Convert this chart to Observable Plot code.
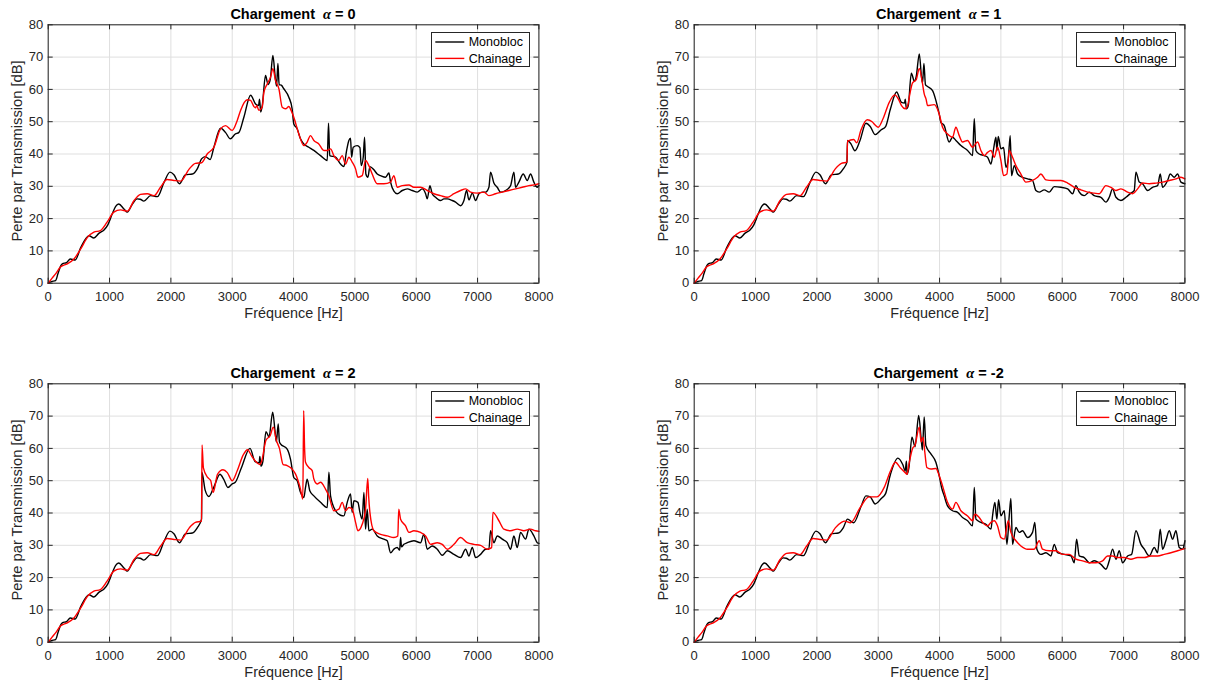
<!DOCTYPE html>
<html><head><meta charset="utf-8">
<script src="https://cdn.jsdelivr.net/npm/d3@7"></script>
<script src="https://cdn.jsdelivr.net/npm/@observablehq/plot@0.6"></script>
<style>
body{margin:0;background:#fff;}
#root{position:relative;width:1208px;height:684px;overflow:hidden;background:#fff;font-family:"Liberation Sans",Arial,Helvetica,sans-serif;}
.panel{position:absolute;}
.ttl{position:absolute;width:300px;text-align:center;font-weight:bold;font-size:14.5px;line-height:18px;color:#000;white-space:pre;}
.ttl i{font-family:"Liberation Serif","DejaVu Serif",serif;font-style:italic;}
.leg{position:absolute;background:#fff;border:1px solid #262626;box-sizing:border-box;font-size:12.5px;color:#000;}
.leg div{position:absolute;left:37px;line-height:14px;}
</style>
</head><body><div id="root"></div>
<script>
// ---- tick labels ----
const xTicks = [0,1000,2000,3000,4000,5000,6000,7000,8000];
const yTicks = [0,10,20,30,40,50,60,70,80];
const titles = ["0","1","2","-2"];
const seriesNames = ["Monobloc","Chainage"];

// ---- shared low-frequency part (Hz, dB) ----
const monoLow = [[0,0],[50,0.5],[120,0.8],[160,3],[200,5.2],[230,6],[300,6.4],[360,7.5],[440,7.2],[530,11],[610,13.7],[665,14.7],[745,14],[830,15.5],[910,16.5],[970,18],[1045,21.5],[1100,23.8],[1150,24.5],[1235,23],[1290,22],[1370,24.4],[1450,26.1],[1500,26],[1560,25.4],[1670,27.1],[1780,26.8],[1890,31.3],[1985,34.4],[2050,33.6],[2140,30.8],[2240,33.6],[2350,33.8],[2430,35.4]];
const chainLow = [[0,0],[60,1.5],[120,2.9],[200,5],[310,6],[420,7.5],[530,10.6],[640,14.2],[745,15.8],[850,16.3],[960,18.9],[1070,22],[1180,22.7],[1290,22.3],[1400,25.6],[1505,27.5],[1615,27.7],[1725,27.1],[1830,29.7],[1940,32.1],[2050,31.8],[2160,31.6],[2300,35.4],[2400,37.1]];

// ---- alpha = 0 ----
const mono0 = [[2500,38.5],[2560,39.2],[2640,38.3],[2700,42],[2810,48],[2890,46.7],[2970,44.7],[3050,46.2],[3110,46.7],[3190,51.4],[3300,58.2],[3380,55.5],[3430,55],[3445,57],[3465,53],[3490,55],[3543,64.3],[3585,61.5],[3620,63],[3663,70.5],[3700,64],[3723,61],[3745,68],[3765,61.5],[3800,61.3],[3841,60.2],[3923,57.6],[3977,54],[4004,49.3],[4059,47.8],[4113,44.7],[4168,43.1],[4249,42.1],[4331,41.1],[4440,39.5],[4549,38],[4570,49.5],[4590,39.5],[4685,39],[4766,36.9],[4820,36.1],[4864,41],[4902,44.2],[4929,44.9],[4946,39],[4973,42.1],[5038,42.6],[5082,42],[5103,36.4],[5136,39],[5158,45.2],[5179,33.8],[5212,32.8],[5245,36.1],[5310,35.1],[5364,33.8],[5419,33.3],[5500,32.8],[5555,34.1],[5582,31.3],[5636,28.5],[5690,27.7],[5772,28.7],[5854,29.2],[5935,28.7],[6017,28.2],[6098,29.2],[6153,27.7],[6180,26.1],[6223,30.2],[6261,27.7],[6316,26.6],[6397,25.6],[6451,26.1],[6506,26.1],[6587,25.6],[6642,25.1],[6723,24],[6778,25.6],[6821,28.7],[6859,25.8],[6914,27.9],[6968,25.6],[7022,27.7],[7077,28.2],[7131,28.2],[7185,29.7],[7212,34.4],[7266,31],[7321,29.7],[7375,28.2],[7457,28.7],[7538,30.2],[7592,34.4],[7620,29.7],[7674,31.3],[7745,33.8],[7810,31.8],[7864,33.8],[7918,31.3],[7973,29.7],[8000,30.2]];
const chain0 = [[2500,37.3],[2592,40],[2701,42.1],[2810,47.8],[2891,48.8],[2999,47.3],[3082,50.4],[3136,53.5],[3245,56.8],[3299,56.6],[3353,54.7],[3380,54.3],[3400,55],[3435,53.5],[3489,54.5],[3516,59.1],[3571,61.7],[3625,63.8],[3663,66.4],[3707,62.7],[3761,60.2],[3815,54.5],[3870,54],[3924,54.7],[3960,53.5],[4004,51.4],[4086,46.2],[4168,42.6],[4222,43.7],[4276,45.7],[4331,44.2],[4412,43.1],[4494,41.1],[4549,41.1],[4603,41.6],[4657,39.5],[4739,38],[4793,39.5],[4848,36.9],[4902,39],[4956,37.5],[5011,35.4],[5049,32.8],[5119,33.3],[5174,38],[5228,36.4],[5282,33.8],[5364,30.8],[5473,30.8],[5582,31.3],[5636,33.3],[5690,29.7],[5772,30.2],[5881,30.4],[5962,29.7],[6071,29.7],[6180,28.7],[6288,27.7],[6397,27.1],[6506,26.6],[6615,27.7],[6723,28.7],[6805,29.2],[6887,28.2],[6995,27.9],[7104,28.2],[7185,27.1],[7294,27.7],[7403,28.2],[7511,28.7],[7620,29.2],[7728,29.7],[7837,30.2],[7946,30.5],[8000,30.8]];

// ---- alpha = 1 ----
const mono1 = [[2490,37.5],[2500,44.2],[2560,43],[2620,41],[2700,44],[2800,49.5],[2870,48.5],[2950,46],[3050,47.5],[3120,48.5],[3200,54],[3300,59.2],[3380,56],[3430,55.8],[3440,57],[3460,54],[3490,55],[3540,65],[3590,62.5],[3620,64],[3670,71],[3705,64],[3723,62],[3745,68],[3770,61.5],[3804,60.9],[3886,59.6],[3940,56.6],[3994,52.4],[4022,49.8],[4076,48.8],[4157,43.7],[4212,45.2],[4266,44.2],[4348,42.6],[4457,41.1],[4538,39.5],[4566,50.9],[4593,41.1],[4647,40],[4729,39.5],[4783,39],[4838,36.9],[4881,41.6],[4919,45.2],[4935,41],[4957,45.4],[5000,41.6],[5044,42],[5082,35.9],[5120,38.5],[5152,45.7],[5174,33.3],[5218,36.4],[5272,33.8],[5353,32.8],[5435,32.3],[5516,31.8],[5571,28.7],[5625,28.2],[5707,28.9],[5788,28.2],[5870,29.9],[5979,29.7],[6088,29.2],[6169,27.7],[6223,30.2],[6278,28.2],[6359,27.1],[6441,28.2],[6522,27.1],[6631,26.6],[6712,25.1],[6767,26.6],[6821,29.2],[6876,26.6],[6957,25.6],[7039,26.6],[7120,27.9],[7174,28.7],[7202,34.4],[7256,31.3],[7310,30.8],[7392,28.7],[7473,29.7],[7555,30.2],[7598,33.8],[7636,29.7],[7718,31.8],[7761,33.8],[7826,32.8],[7881,33.8],[7935,31.3],[8000,30.8]];
const chain1 = [[2490,37.5],[2500,44],[2600,44.5],[2650,43.5],[2720,47.5],[2820,50.6],[2900,50],[2950,49],[3000,48.3],[3080,51],[3180,56],[3270,58.3],[3330,57],[3380,55],[3440,54],[3480,55],[3520,59],[3560,62],[3620,63],[3670,66.5],[3720,62],[3750,58.6],[3780,57],[3804,55],[3913,55.3],[3994,52.4],[4049,48.3],[4130,46.2],[4212,45.2],[4266,48.3],[4321,45.7],[4375,43.7],[4457,44.2],[4538,42.1],[4620,43.7],[4674,41.1],[4729,39.5],[4783,40.5],[4838,41.1],[4892,39],[4946,42.1],[5000,38],[5044,33.3],[5098,33.8],[5136,41.1],[5190,39],[5245,36.4],[5326,33.8],[5408,31.3],[5516,31.8],[5598,32.8],[5652,33.8],[5734,32],[5842,31.8],[5979,31.8],[6088,31],[6196,29.7],[6305,28.9],[6413,28.2],[6522,27.9],[6604,27.7],[6712,30.2],[6794,29.7],[6876,28.7],[6957,29.2],[7066,28.2],[7147,27.7],[7229,29.2],[7310,31],[7419,30.8],[7528,31],[7636,31.3],[7745,31.8],[7854,32.3],[7935,32.8],[8000,32.3]];

// ---- alpha = 2 ----
const mono2 = [[2500,38.1],[2505,52.6],[2560,47],[2620,45.1],[2700,48],[2800,52],[2860,50.5],[2930,47.9],[3000,49],[3050,49.5],[3150,54],[3290,60],[3370,56],[3440,55.5],[3450,57.5],[3470,54.5],[3500,56],[3550,65.2],[3600,63.5],[3660,71.2],[3700,65],[3720,62],[3750,67.6],[3770,62],[3787,61.4],[3896,59.8],[3950,56.7],[4004,51],[4059,50],[4113,46.4],[4168,44.8],[4195,47.9],[4222,50.5],[4265,46.9],[4331,45.3],[4440,43.3],[4549,41.7],[4576,52.6],[4603,45.3],[4685,40.7],[4766,39.3],[4820,39.1],[4875,43.3],[4929,45.9],[4956,40.2],[4984,43.8],[5049,43.3],[5082,40.2],[5119,38.1],[5147,46.4],[5174,35],[5201,41.2],[5228,34.5],[5282,35],[5364,32.9],[5473,31.9],[5527,31.4],[5582,27.7],[5636,28.8],[5690,29.3],[5730,28.5],[5745,32.4],[5760,29.5],[5799,30.3],[5854,30.8],[5962,31.4],[6071,30.8],[6125,33.4],[6180,28.8],[6261,29.8],[6343,28.8],[6424,26.9],[6506,28.3],[6615,27.2],[6723,26.2],[6805,28.8],[6859,26.7],[6914,29.3],[6968,26.2],[7049,27.2],[7131,28.8],[7185,28.8],[7212,34.5],[7266,30.8],[7321,32.9],[7403,31.9],[7484,30.8],[7538,28.8],[7592,32.9],[7647,29.3],[7701,34],[7783,31.9],[7837,35],[7918,32.9],[7973,30.8],[8000,30.6]];
const chain2 = [[2500,37.5],[2508,61.1],[2530,54],[2600,51],[2650,50],[2690,46.4],[2760,52],[2850,53.4],[2920,52.5],[3000,50],[3080,53],[3180,58],[3250,59.6],[3320,57.5],[3380,56],[3450,55],[3480,56],[3550,62.5],[3620,64],[3670,66.6],[3720,62.5],[3770,60],[3830,55],[3896,54.7],[3977,53.6],[4031,52.1],[4113,47.4],[4151,44.3],[4165,71.7],[4180,60],[4195,55.7],[4249,54.1],[4304,53.1],[4331,50.5],[4385,49],[4440,49.5],[4521,47.4],[4576,45.3],[4657,40.7],[4739,41.2],[4793,43.3],[4848,40.7],[4902,41.7],[4956,41.2],[5011,37.1],[5049,34.5],[5119,36.5],[5174,41.2],[5210,50.7],[5225,45],[5245,40.2],[5310,34.5],[5419,33.4],[5527,32.9],[5636,32.4],[5700,32.9],[5715,41.2],[5745,38.1],[5826,36],[5881,34],[5962,34.5],[6071,34],[6153,32.9],[6234,30.3],[6343,30.8],[6424,30.3],[6506,28.8],[6615,30.3],[6723,32.4],[6832,30.8],[6941,30.3],[7049,30],[7158,28.8],[7230,29.3],[7250,40.2],[7348,37.6],[7429,35],[7538,34.5],[7647,35],[7755,34.5],[7864,35],[7946,34.5],[8000,34.3]];

// ---- alpha = -2 ----
const monoM2 = [[2500,38.1],[2600,37],[2720,42],[2800,45.3],[2870,45],[2950,42.8],[3050,44.5],[3120,46],[3200,52],[3320,57],[3400,55],[3440,53],[3460,56],[3470,52],[3500,54],[3550,63.5],[3600,60.5],[3660,70.2],[3700,63],[3720,59.5],[3750,69.7],[3777,60.9],[3859,58.3],[3940,55.7],[3994,51.6],[4033,47.9],[4076,45.3],[4130,42.2],[4212,40.7],[4294,40.2],[4375,38.6],[4457,37.6],[4538,36],[4566,47.9],[4593,38.1],[4674,37.1],[4756,36.5],[4838,35],[4864,39.1],[4902,43.3],[4935,38.1],[4962,44.1],[5000,39.1],[5055,40.7],[5098,30.3],[5136,39.1],[5163,44.5],[5190,30.3],[5245,35.5],[5299,34],[5353,34.5],[5435,32.4],[5516,34],[5554,37.1],[5587,28.8],[5652,27.2],[5734,27.7],[5815,26.7],[5870,30.3],[5924,27.7],[6033,27.2],[6142,26.7],[6196,24.6],[6234,31.9],[6278,26.7],[6359,26.2],[6441,24.6],[6522,25.2],[6631,24.1],[6712,22.6],[6767,25.2],[6821,28.8],[6876,25.7],[6930,28.3],[6984,24.6],[7066,26.7],[7131,27.2],[7202,34.5],[7283,30.3],[7338,28.8],[7419,26.7],[7501,29.3],[7555,27.7],[7598,35],[7636,28.8],[7690,31.4],[7745,34.5],[7799,31.9],[7854,34.5],[7908,29.3],[7962,28.8],[8000,31.4]];
const chainM2 = [[2450,37.5],[2550,37],[2700,41.5],[2850,45],[2980,45],[3100,48],[3200,53],[3280,55.7],[3360,54],[3440,52.5],[3470,52],[3500,55],[3560,60],[3600,61],[3670,66.6],[3700,62],[3730,63.5],[3760,58.8],[3793,54.1],[3859,53.6],[3940,53.8],[3994,51.6],[4049,48.4],[4130,43.3],[4212,41.2],[4266,43.3],[4348,40.7],[4457,39.1],[4538,37.6],[4576,39.6],[4647,38.6],[4701,37.1],[4783,36],[4838,37.1],[4892,37.6],[4946,36],[5000,32.4],[5055,31.9],[5120,37.6],[5163,34],[5245,31.4],[5326,29.8],[5435,28.8],[5543,28.8],[5625,31.4],[5679,28.8],[5788,28.3],[5897,28.3],[6006,27.2],[6115,27.2],[6223,25.7],[6332,25.2],[6441,24.6],[6549,24.6],[6658,25.2],[6739,26.7],[6821,26.7],[6903,26.2],[7012,26.2],[7120,25.7],[7229,26.2],[7338,26.2],[7446,26.7],[7555,26.7],[7664,27.2],[7772,27.7],[7881,28.3],[8000,29]];

// ---- layout ----
const W = 560, H = 324, ML = 47.7, MR = 21.6, MT = 24.3, MB = 41.3;
const PW = W - ML - MR, PH = H - MT - MB;
const panels = [
  {t: titles[0], mono: monoLow.concat(mono0), chain: chainLow.concat(chain0), left: 0, top: 0},
  {t: titles[1], mono: monoLow.concat(mono1), chain: chainLow.concat(chain1), left: 645.6, top: 0},
  {t: titles[2], mono: monoLow.concat(mono2), chain: chainLow.concat(chain2), left: 0, top: 359},
  {t: titles[3], mono: monoLow.concat(monoM2), chain: chainLow.concat(chainM2), left: 645.6, top: 359}
];
const root = document.getElementById("root");
const tkY = 80 * 5 / PH, tkX = 8000 * 5 / PW;
const gridColor = "#dfdfdf", axColor = "#262626";

for (const p of panels) {
  const div = document.createElement("div");
  div.className = "panel";
  div.style.left = p.left + "px"; div.style.top = p.top + "px";
  const chart = Plot.plot({
    width: W, height: H, marginLeft: ML, marginRight: MR, marginTop: MT, marginBottom: MB,
    style: {fontFamily: '"Liberation Sans", Arial, Helvetica, sans-serif', fontSize: "13px", color: axColor, background: "white", overflow: "visible"},
    x: {domain: [0, 8000]},
    y: {domain: [0, 80]},
    marks: [
      Plot.gridX(xTicks, {stroke: gridColor, strokeOpacity: 1, strokeWidth: 1}),
      Plot.gridY(yTicks, {stroke: gridColor, strokeOpacity: 1, strokeWidth: 1}),
      Plot.ruleX(xTicks, {x: d => d, y1: 0, y2: tkY, stroke: axColor}),
      Plot.ruleX(xTicks, {x: d => d, y1: 80 - tkY, y2: 80, stroke: axColor}),
      Plot.ruleY(yTicks, {y: d => d, x1: 0, x2: tkX, stroke: axColor}),
      Plot.ruleY(yTicks, {y: d => d, x1: 8000 - tkX, x2: 8000, stroke: axColor}),
      Plot.line(p.mono, {x: d => d[0], y: d => d[1], stroke: "#000000", strokeWidth: 1.4, curve: "monotone-x", strokeLinejoin: "round"}),
      Plot.line(p.chain, {x: d => d[0], y: d => d[1], stroke: "#ff0000", strokeWidth: 1.4, curve: "monotone-x", strokeLinejoin: "round"}),
      Plot.frame({stroke: axColor, strokeWidth: 1}),
      Plot.axisX(xTicks, {tickSize: 0, tickPadding: 9, label: null, tickFormat: d => String(d), fontSize: 13, fill: axColor}),
      Plot.axisY(yTicks, {tickSize: 0, tickPadding: 5, label: null, tickFormat: d => String(d), fontSize: 13, fill: axColor}),
      Plot.text(["Fréquence [Hz]"], {text: d => d, frameAnchor: "bottom", dy: 30.5, fontSize: 14.4, fill: axColor, textAnchor: "middle", lineAnchor: "middle"}),
      Plot.text(["Perte par Transmission [dB]"], {text: d => d, frameAnchor: "left", dx: -31, dy: -3, rotate: -90, fontSize: 14.7, fill: axColor, textAnchor: "middle", lineAnchor: "middle"})
    ]
  });
  div.appendChild(chart);
  // title
  const t = document.createElement("div");
  t.className = "ttl";
  t.style.left = (ML + PW / 2 - 150) + "px";
  t.style.top = (MT - 10.5 - 9) + "px";
  t.innerHTML = "Chargement  <i>\u03b1</i> = " + p.t;
  div.appendChild(t);
  // legend
  const lg = document.createElement("div");
  lg.className = "leg";
  const lw = 99.3, lh = 35;
  lg.style.width = lw + "px"; lg.style.height = lh + "px";
  lg.style.left = (ML + PW - 8.4 - lw) + "px";
  lg.style.top = (MT + 8) + "px";
  const colors = ["#000000", "#ff0000"];
  const rows = [10, 26.4];
  let svg = '<svg width="' + lw + '" height="' + lh + '" style="position:absolute;left:-1px;top:-1px">';
  seriesNames.forEach((n, i) => {
    svg += '<line x1="4.3" x2="33.3" y1="' + rows[i] + '" y2="' + rows[i] + '" stroke="' + colors[i] + '" stroke-width="1.4"/>';
  });
  svg += '</svg>';
  lg.innerHTML = svg + seriesNames.map((n, i) => '<div style="top:' + (rows[i] - 1 - 7) + 'px">' + n + '</div>').join("");
  div.appendChild(lg);
  root.appendChild(div);
}
</script></body></html>
